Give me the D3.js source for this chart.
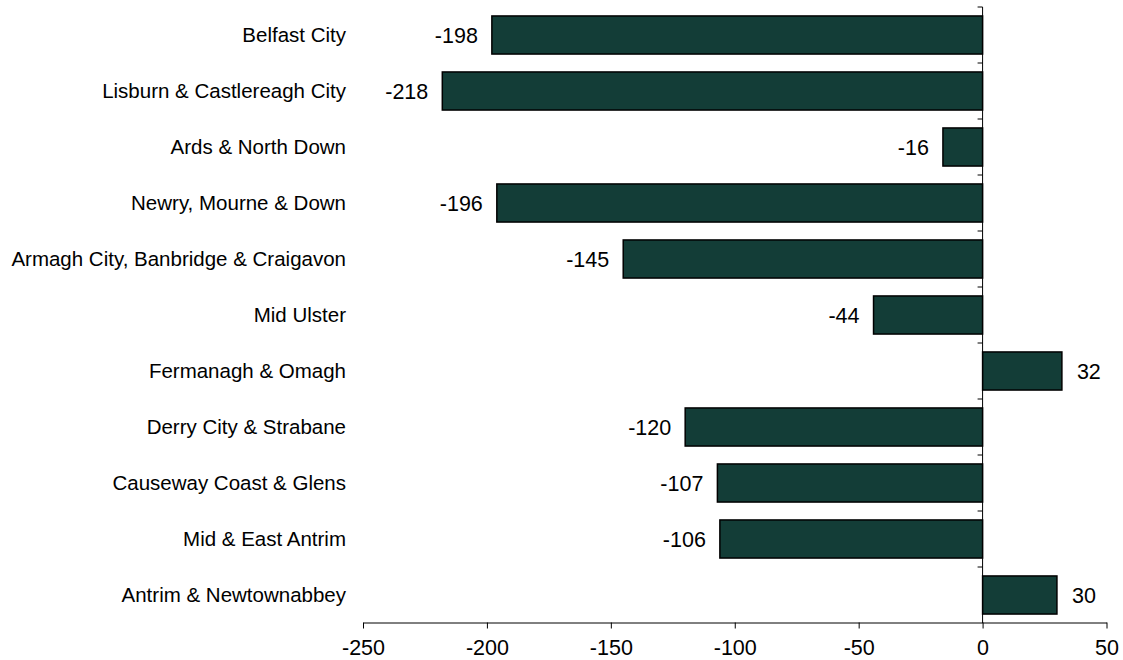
<!DOCTYPE html>
<html><head><meta charset="utf-8">
<script src="https://cdn.jsdelivr.net/npm/d3@7"></script>
<style>body{margin:0;background:#fff}svg{display:block}text{font-family:"Liberation Sans",Arial,sans-serif}</style>
</head><body>
<script>
const categories = ["Belfast City","Lisburn & Castlereagh City","Ards & North Down","Newry, Mourne & Down","Armagh City, Banbridge & Craigavon","Mid Ulster","Fermanagh & Omagh","Derry City & Strabane","Causeway Coast & Glens","Mid & East Antrim","Antrim & Newtownabbey"];
const values = [-198,-218,-16,-196,-145,-44,32,-120,-107,-106,30];
const xTicks = [-250,-200,-150,-100,-50,0,50];

const W=1123,H=660;
const svg=d3.select("body").append("svg").attr("width",W).attr("height",H);
const x=d3.scaleLinear().domain([-250,50]).range([363,1106.5]);
const y=d3.scaleBand().domain(categories).range([7,623]).paddingInner(0.32).paddingOuter(0.16);
const step=y.step();

// bars
svg.append("g").selectAll("rect").data(values).join("rect")
  .attr("x",(d)=>x(Math.min(0,d)))
  .attr("width",d=>Math.abs(x(d)-x(0)))
  .attr("y",(d,i)=>y(categories[i]))
  .attr("height",y.bandwidth())
  .attr("fill","#133d37").attr("stroke","#000").attr("stroke-width",1.5);

// value labels
svg.append("g").selectAll("text").data(values).join("text")
  .attr("x",d=>d<0?x(d)-14:x(d)+15)
  .attr("y",(d,i)=>y(categories[i])+y.bandwidth()/2)
  .attr("dy","0.36em")
  .attr("text-anchor",d=>d<0?"end":"start")
  .attr("font-size",21.5).attr("fill","#000")
  .text(d=>d);

// zero (category) axis with ticks at band boundaries
const z=svg.append("g");
z.append("line").attr("x1",x(0)).attr("x2",x(0)).attr("y1",7).attr("y2",623).attr("stroke","#000").attr("stroke-width",1);
z.selectAll("line.t").data(d3.range(categories.length)).join("line").attr("class","t")
  .attr("x1",x(0)-5).attr("x2",x(0)).attr("y1",i=>7+i*step).attr("y2",i=>7+i*step)
  .attr("stroke","#000");

// category labels
svg.append("g").selectAll("text").data(categories).join("text")
  .attr("x",346).attr("y",d=>y(d)+y.bandwidth()/2).attr("dy","0.36em")
  .attr("text-anchor","end").attr("font-size",20.5).attr("fill","#000").text(d=>d);

// x axis
const ax=svg.append("g").attr("transform","translate(0,622.5)")
  .call(d3.axisBottom(x).tickValues(xTicks).tickSize(6).tickSizeOuter(0).tickPadding(11).tickFormat(d3.format("d")));
ax.select(".domain").attr("stroke","#000");
ax.selectAll(".tick line").attr("stroke","#000");
ax.selectAll("text").attr("font-size",21.5).attr("fill","#000").attr("font-family","Liberation Sans, Arial, sans-serif");
ax.selectAll(".tick text").text(d=>d<0?"-"+Math.abs(d):d);
</script>
</body></html>
